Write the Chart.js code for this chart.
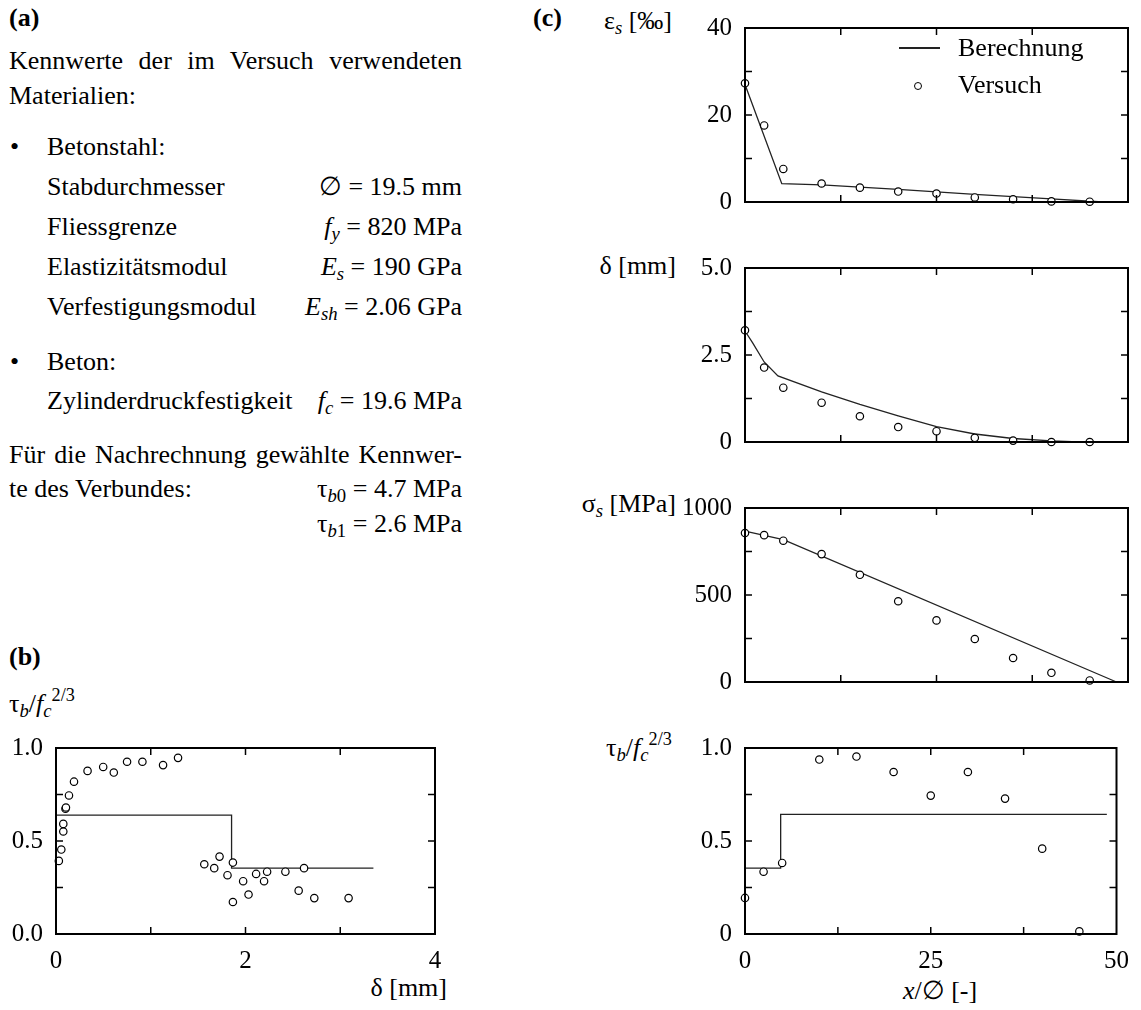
<!DOCTYPE html>
<html><head><meta charset="utf-8">
<script src="https://cdn.jsdelivr.net/npm/chart.js@4.4.1/dist/chart.umd.min.js"></script>
<style>
html,body{margin:0;padding:0;background:#fff;}
body{width:1141px;height:1010px;position:relative;overflow:hidden;font-family:'Liberation Serif','LiberationSerif','Tinos','Times New Roman','DejaVu Serif',serif;color:#000;}
.t{position:absolute;line-height:1;white-space:nowrap;}
.t sub{font-size:0.72em;line-height:0;vertical-align:-0.28em;}
.t sup{font-size:0.7em;line-height:0;vertical-align:0.62em;}
canvas{position:absolute;}
</style></head><body>
<script>
// ---------- data ----------
// panel (b): bond stress vs slip
const bSlip = [0.03,0.056,0.077,0.077,0.10,0.105,0.137,0.19,0.333,0.498,0.61,0.75,0.912,1.13,1.288,1.565,1.670,1.726,1.81,1.867,1.867,1.975,2.032,2.112,2.196,2.228,2.421,2.561,2.618,2.726,3.088];
const bTau  = [0.393,0.454,0.551,0.592,0.673,0.680,0.745,0.819,0.877,0.898,0.868,0.926,0.926,0.908,0.947,0.375,0.354,0.416,0.316,0.384,0.172,0.284,0.212,0.323,0.284,0.335,0.335,0.233,0.354,0.193,0.193];
const bModelSlip = [0,1.853,1.853,3.35];
const bModelTau  = [0.639,0.639,0.354,0.354];
const bXTicks = [0,1,2,3,4];           const bXLabels = ['0','','2','','4'];
const bYTicks = [0,0.25,0.5,0.75,1];   const bYLabels = ['0.0','','0.5','','1.0'];

// panel (c): distributions along the bar
const xPos = [0,2.5,5,10,15,20,25,30,35,40,45];
const epsTest   = [27.3,17.6,7.6,4.25,3.3,2.4,1.95,1.05,0.63,0.14,0.07];
const deltaTest = [3.21,2.14,1.56,1.13,0.74,0.43,0.31,0.12,0.04,0.0,0.0];
const sigmaTest = [856,844,812,735,616,464,354,247,138,53,9];
const tauTest   = [0.194,0.335,0.382,0.938,0.954,0.871,0.744,0.871,0.728,0.459,0.014];

const epsModelX   = [0,4.8,10,20,30,40,46.7,48.5];
const epsModelY   = [27.0,4.2,3.95,2.9,1.75,0.7,0,0];
const deltaModelX = [0,1,2.5,4.3,10,15,20,25,30,35,40,43.6,48.5];
const deltaModelY = [3.19,2.85,2.3,1.9,1.44,1.08,0.75,0.44,0.23,0.1,0.03,0,0];
const sigmaModelX = [0,5,48.5];
const sigmaModelY = [867,818,0];
const tauModelX   = [0,4.8,4.8,48.7];
const tauModelY   = [0.354,0.354,0.643,0.643];

const cXTicks = [0,12.5,25,37.5,50];        const cXLabels = ['0','','25','','50'];
const epsTicks = [0,10,20,30,40];            const epsLabels = ['0','','20','','40'];
const deltaTicks = [0,1.25,2.5,3.75,5];      const deltaLabels = ['0','','2.5','','5.0'];
const sigmaTicks = [0,250,500,750,1000];     const sigmaLabels = ['0','','500','','1000'];
const tauTicks = [0,0.25,0.5,0.75,1];        const tauLabels = ['0','','0.5','','1.0'];

// ---------- helpers ----------
const FONT = "'Liberation Serif','LiberationSerif','Tinos','Times New Roman','DejaVu Serif',serif";
function T(html, x, base, o) {
  o = o || {};
  const d = document.createElement('div');
  d.className = 't'; d.innerHTML = html;
  const fs = o.size || 26;
  d.style.fontSize = fs + 'px';
  d.style.top = (base - 0.8375 * fs) + 'px';
  d.style.left = x + 'px';
  if (o.align === 'right') d.style.transform = 'translateX(-100%)';
  if (o.align === 'center') d.style.transform = 'translateX(-50%)';
  if (o.width) { d.style.width = o.width + 'px'; d.style.whiteSpace = 'normal'; d.style.textAlign = 'justify'; d.style.textAlignLast = 'justify'; }
  document.body.appendChild(d);
  return d;
}

const framePlugin = {
  id: 'frame',
  afterDatasetsDraw(chart) {
    const {ctx, chartArea: a, scales: {x, y}} = chart;
    ctx.save();
    ctx.strokeStyle = '#000';
    ctx.lineWidth = 1.5;
    const L = 7;
    const seg = (x1, y1, x2, y2) => { ctx.beginPath(); ctx.moveTo(x1, y1); ctx.lineTo(x2, y2); ctx.stroke(); };
    x.ticks.forEach(t => {
      const p = x.getPixelForValue(t.value);
      if (p <= a.left + 1 || p >= a.right - 1) return;
      seg(p, a.bottom, p, a.bottom - L); seg(p, a.top, p, a.top + L);
    });
    y.ticks.forEach(t => {
      const p = y.getPixelForValue(t.value);
      if (p <= a.top + 1 || p >= a.bottom - 1) return;
      seg(a.left, p, a.left + L, p); seg(a.right, p, a.right - L, p);
    });
    ctx.lineWidth = 2;
    ctx.strokeRect(a.left, a.top, a.right - a.left, a.bottom - a.top);
    ctx.restore();
  }
};

function axis(ticks, labels, horiz, size, show, pad) {
  return {
    type: 'linear', position: horiz ? 'bottom' : 'left',
    min: ticks[0], max: ticks[ticks.length - 1],
    afterBuildTicks: s => { s.ticks = ticks.map(v => ({value: v})); },
    afterFit: s => { if (horiz) s.height = size; else s.width = size; },
    ticks: {display: show, autoSkip: false, maxRotation: 0, minRotation: 0, padding: pad,
            color: '#000', font: {family: FONT, size: 25}, callback: (v, i) => labels[i]},
    grid: {display: false, drawTicks: false},
    border: {display: false}
  };
}
function lineDS(xs, ys) {
  return {data: xs.map((x, i) => ({x: x, y: ys[i]})), showLine: true, borderColor: '#222', borderWidth: 1.3,
          pointRadius: 0, fill: false, clip: false, order: 2};
}
function ptsDS(xs, ys) {
  return {data: xs.map((x, i) => ({x: x, y: ys[i]})), showLine: false, pointStyle: 'circle', pointRadius: 3.7,
          pointBorderWidth: 1.2, pointBorderColor: '#000', pointBackgroundColor: '#fff', clip: false, order: 1};
}
function makeChart(box, area, xAx, yAx, datasets) {
  const cv = document.createElement('canvas');
  cv.width = box.w; cv.height = box.h;
  cv.style.left = box.x + 'px'; cv.style.top = box.y + 'px';
  cv.style.width = box.w + 'px'; cv.style.height = box.h + 'px';
  document.body.appendChild(cv);
  return new Chart(cv, {
    type: 'scatter',
    data: {datasets: datasets},
    options: {
      responsive: false, animation: false, devicePixelRatio: 1,
      layout: {padding: {left: 0, top: area.t - box.y, right: box.x + box.w - area.r, bottom: 0}},
      plugins: {legend: {display: false}, tooltip: {enabled: false}},
      scales: {
        x: axis(xAx.ticks, xAx.labels, true, box.y + box.h - area.b, xAx.show, 12),
        y: axis(yAx.ticks, yAx.labels, false, area.l - box.x, true, 13)
      }
    },
    plugins: [framePlugin]
  });
}

// ---------- panel (a) text ----------
T('<b>(a)</b>', 9, 27);
T('Kennwerte der im Versuch verwendeten', 9, 70, {width: 453});
T('Materialien:', 9, 105);
T('•', 10, 156); T('Betonstahl:', 47, 156);
T('Stabdurchmesser', 47, 196);      T('∅ = 19.5 mm', 462, 196, {align: 'right'});
T('Fliessgrenze', 47, 236);         T('<i>f</i><sub><i>y</i></sub> = 820 MPa', 462, 236, {align: 'right'});
T('Elastizitätsmodul', 47, 276);    T('<i>E</i><sub><i>s</i></sub> = 190 GPa', 462, 276, {align: 'right'});
T('Verfestigungsmodul', 47, 316);   T('<i>E</i><sub><i>sh</i></sub> = 2.06 GPa', 462, 316, {align: 'right'});
T('•', 10, 371); T('Beton:', 47, 371);
T('Zylinderdruckfestigkeit', 47, 410); T('<i>f</i><sub><i>c</i></sub> = 19.6 MPa', 462, 410, {align: 'right'});
T('Für die Nachrechnung gewählte Kennwer-', 9, 464, {width: 453});
T('te des Verbundes:', 9, 498);     T('τ<sub><i>b</i>0</sub> = 4.7 MPa', 462, 498, {align: 'right'});
T('τ<sub><i>b</i>1</sub> = 2.6 MPa', 462, 533, {align: 'right'});

// ---------- panel (b) ----------
T('<b>(b)</b>', 9, 666);
T('τ<sub><i>b</i></sub>/<i>f</i><sub><i>c</i></sub><sup>2/3</sup>', 9, 713);
T('δ [mm]', 447, 997, {align: 'right'});
makeChart({x: 0, y: 720, w: 470, h: 290}, {l: 56, r: 435, t: 745, b: 934},
  {ticks: bXTicks, labels: bXLabels, show: true}, {ticks: bYTicks, labels: bYLabels},
  [lineDS(bModelSlip, bModelTau), ptsDS(bSlip, bTau)]);

// ---------- panel (c) ----------
T('<b>(c)</b>', 533, 27);
T('ε<sub><i>s</i></sub> [‰]', 604, 30);
T('δ [mm]', 676, 275, {align: 'right'});
T('σ<sub><i>s</i></sub> [MPa]', 676, 513, {align: 'right'});
T('τ<sub><i>b</i></sub>/<i>f</i><sub><i>c</i></sub><sup>2/3</sup>', 606, 757);
T('<i>x</i>/∅ [-]', 940, 1000, {align: 'center'});

const cBoxX = 560, cBoxW = 581, cL = 745, cR = 1128;
makeChart({x: cBoxX, y: 0, w: cBoxW, h: 230}, {l: cL, r: cR, t: 18, b: 207},
  {ticks: cXTicks, labels: cXLabels, show: false}, {ticks: epsTicks, labels: epsLabels},
  [lineDS(epsModelX, epsModelY), ptsDS(xPos, epsTest)]);
makeChart({x: cBoxX, y: 240, w: cBoxW, h: 230}, {l: cL, r: cR, t: 262, b: 450},
  {ticks: cXTicks, labels: cXLabels, show: false}, {ticks: deltaTicks, labels: deltaLabels},
  [lineDS(deltaModelX, deltaModelY), ptsDS(xPos, deltaTest)]);
makeChart({x: cBoxX, y: 480, w: cBoxW, h: 230}, {l: cL, r: cR, t: 504, b: 692},
  {ticks: cXTicks, labels: cXLabels, show: false}, {ticks: sigmaTicks, labels: sigmaLabels},
  [lineDS(sigmaModelX, sigmaModelY), ptsDS(xPos, sigmaTest)]);
makeChart({x: cBoxX, y: 720, w: cBoxW, h: 290}, {l: cL, r: cR, t: 745, b: 934},
  {ticks: cXTicks, labels: cXLabels, show: true}, {ticks: tauTicks, labels: tauLabels},
  [lineDS(tauModelX, tauModelY), ptsDS(xPos, tauTest)]);

// legend
(function () {
  const ln = document.createElement('div');
  ln.style.cssText = 'position:absolute;left:899px;top:47px;width:41px;height:1.5px;background:#222;';
  document.body.appendChild(ln);
  const c = document.createElement('div');
  c.style.cssText = 'position:absolute;left:914px;top:82px;width:6px;height:6px;border:1.2px solid #000;border-radius:50%;background:#fff;';
  document.body.appendChild(c);
  T('Berechnung', 958, 57);
  T('Versuch', 958, 94);
})();
</script>
</body></html>
